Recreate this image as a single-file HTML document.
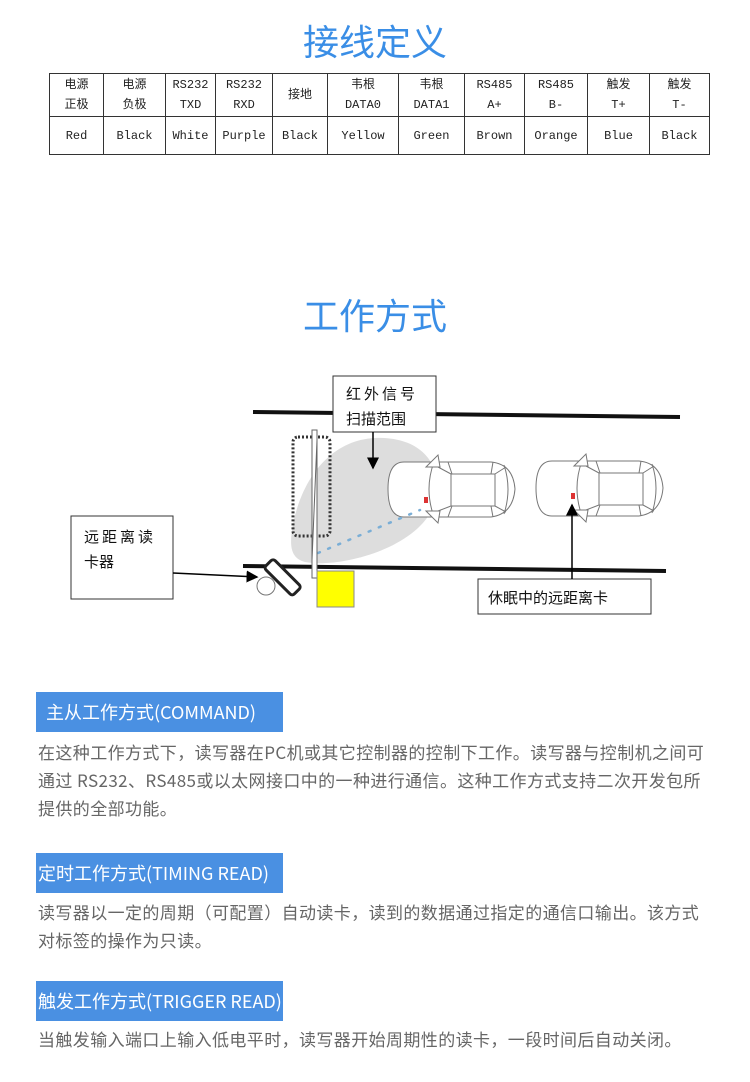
<!DOCTYPE html>
<html><head><meta charset="utf-8">
<style>
*{margin:0;padding:0;box-sizing:border-box}
body{width:750px;height:1082px;background:#fff;position:relative;overflow:hidden;font-family:"Liberation Sans","Noto Sans CJK SC",sans-serif}
.h{position:absolute;left:0;width:750px;text-align:center;color:#3a8ee6;font-size:36px;font-family:"Noto Sans CJK SC",sans-serif;font-weight:400}
table{position:absolute;left:49px;top:73px;width:661px;border-collapse:collapse;font-family:"Liberation Mono","Noto Sans CJK SC",monospace;font-size:12px;color:#222}
td{border:1px solid #333;text-align:center;line-height:20px}
.lab{position:absolute;left:36px;width:247px;height:40px;background:#4a90e2;color:#fff;font-size:18px;line-height:40px;padding-left:10px;font-family:"Noto Sans CJK SC",sans-serif;white-space:nowrap}
.p{position:absolute;left:38px;width:700px;color:#666;font-size:17px;letter-spacing:0.4px;line-height:28px;font-family:"Noto Sans CJK SC",sans-serif;white-space:nowrap}
</style></head><body>
<div class="h" style="top:14px">接线定义</div>
<table>
<tr style="height:43px"><td style="width:54px">电源<br>正极</td><td style="width:62px">电源<br>负极</td><td style="width:50px">RS232<br>TXD</td><td style="width:57px">RS232<br>RXD</td><td style="width:55px">接地</td><td style="width:71px">韦根<br>DATA0</td><td style="width:66px">韦根<br>DATA1</td><td style="width:60px">RS485<br>A+</td><td style="width:63px">RS485<br>B-</td><td style="width:62px">触发<br>T+</td><td>触发<br>T-</td></tr>
<tr style="height:38px"><td>Red</td><td>Black</td><td>White</td><td>Purple</td><td>Black</td><td>Yellow</td><td>Green</td><td>Brown</td><td>Orange</td><td>Blue</td><td>Black</td></tr>
</table>
<div class="h" style="top:288px">工作方式</div>
<svg style="position:absolute;left:0;top:0" width="750" height="1082">
<defs>
<marker id="a" markerWidth="8" markerHeight="8" refX="7" refY="4" orient="auto"><path d="M0,0L8,4L0,8z" fill="#000"/></marker>
<g id="car" fill="#fff" stroke="#777" stroke-width="1">
<path d="M18,3 H105 Q127,5 129,30 Q127,55 105,58 H18 Q2,58 2,30 Q2,3 18,3z"/>
<path d="M48,3 Q38,30 48,58" fill="none"/>
<path d="M40,8 L52,-4 L54,8z M40,52 L52,64 L54,52z" fill="#fff"/>
<rect x="65" y="15" width="44" height="32"/>
<path d="M52,8 L65,15 M52,52 L65,47 M109,15 L120,8 M109,47 L120,53 M62,3 L66,15 M62,58 L66,47 M107,3 L105,15 M107,58 L105,47 M118,6 Q126,30 118,55" fill="none"/>
</g>
</defs>
<path d="M253,412 L680,417" stroke="#111" stroke-width="4"/>
<path d="M243,566 L666,571" stroke="#111" stroke-width="4"/>
<path d="M292,530 C300,480 330,440 375,438 C425,436 448,470 432,510 C410,552 335,568 305,562 C290,558 290,545 292,530z" fill="#ddd"/>
<g transform="translate(386,459)"><use href="#car"/></g>
<g transform="translate(534,458)"><use href="#car"/></g>
<rect x="424" y="497" width="4" height="6" fill="#d33"/>
<rect x="571" y="493" width="4" height="6" fill="#d33"/>
<path d="M318,553 L420,510" stroke="#7aaed6" stroke-width="2.5" stroke-dasharray="2,9" stroke-linecap="round"/>
<rect x="293" y="437" width="37" height="99" rx="5" fill="none" stroke="#333" stroke-width="3" stroke-dasharray="2,2"/>
<rect x="312" y="430" width="5" height="148" fill="#fff" stroke="#666" stroke-width="1"/>
<path d="M312,560 L317,440" stroke="#666"/>
<rect x="317" y="571" width="37" height="36" fill="#ff0" stroke="#888"/>
<circle cx="266" cy="586" r="9" fill="#fff" stroke="#777"/>
<g transform="translate(283,577) rotate(45)"><rect x="-20" y="-6" width="40" height="13" rx="3" fill="#fff" stroke="#222" stroke-width="3"/></g>
<rect x="333" y="376" width="103" height="56" fill="#fff" stroke="#333"/>
<text x="346" y="399" font-size="15" fill="#111" font-family="Noto Sans CJK SC" letter-spacing="3">红外信号</text>
<text x="346" y="424" font-size="15" fill="#111" font-family="Noto Sans CJK SC">扫描范围</text>
<path d="M373,432 L373,468" stroke="#000" stroke-width="1.5" marker-end="url(#a)"/>
<rect x="71" y="516" width="102" height="83" fill="#fff" stroke="#333"/>
<text x="84" y="542" font-size="15" fill="#111" font-family="Noto Sans CJK SC" letter-spacing="3">远距离读</text>
<text x="84" y="567" font-size="15" fill="#111" font-family="Noto Sans CJK SC">卡器</text>
<path d="M173,573 L257,577" stroke="#000" stroke-width="1.5" marker-end="url(#a)"/>
<rect x="478" y="579" width="173" height="35" fill="#fff" stroke="#333"/>
<text x="488" y="603" font-size="15" fill="#111" font-family="Noto Sans CJK SC">休眠中的远距离卡</text>
<path d="M572,579 L572,505" stroke="#000" stroke-width="1.5" marker-end="url(#a)"/>
</svg>
<div class="lab" style="top:692px">主从工作方式(COMMAND)</div>
<div class="p" style="top:738px">在这种工作方式下，读写器在PC机或其它控制器的控制下工作。读写器与控制机之间可<br>通过 RS232、RS485或以太网接口中的一种进行通信。这种工作方式支持二次开发包所<br>提供的全部功能。</div>
<div class="lab" style="top:853px;padding-left:2px">定时工作方式(TIMING READ)</div>
<div class="p" style="top:898px">读写器以一定的周期（可配置）自动读卡，读到的数据通过指定的通信口输出。该方式<br>对标签的操作为只读。</div>
<div class="lab" style="top:981px;padding-left:2px">触发工作方式(TRIGGER READ)</div>
<div class="p" style="top:1025px">当触发输入端口上输入低电平时，读写器开始周期性的读卡，一段时间后自动关闭。</div>
</body></html>
